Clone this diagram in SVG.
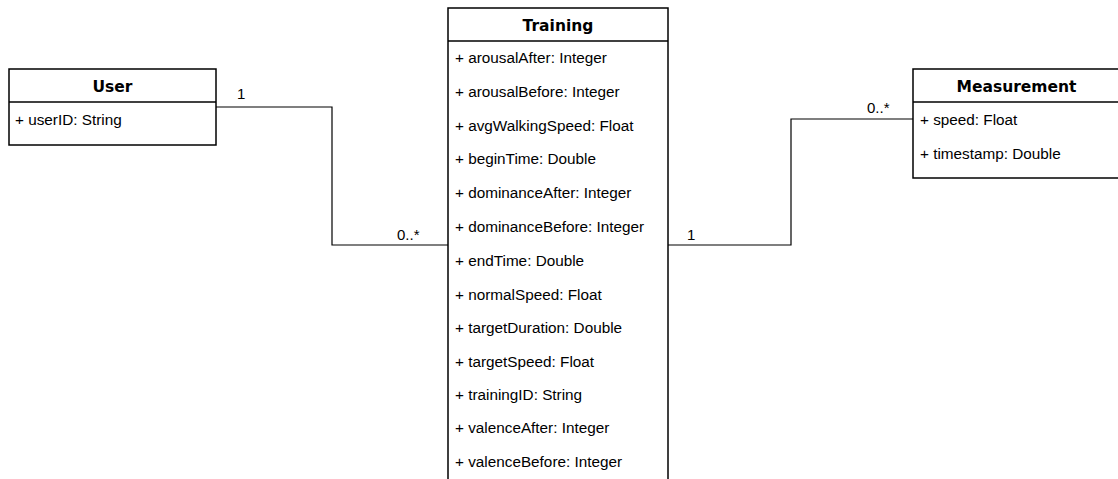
<svg xmlns="http://www.w3.org/2000/svg" width="1118" height="479" viewBox="0 0 1118 479">
  <style>
    .box { fill: #ffffff; stroke: #000000; stroke-width: 1.5; }
    .sep { stroke: #000000; stroke-width: 1.5; }
    .title { font-family: "DejaVu Sans", Verdana, sans-serif; font-weight: bold; font-size: 15.5px; text-anchor: middle; fill: #000; }
    .attr { font-family: "Liberation Sans", Arial, sans-serif; font-size: 15.3px; fill: #000; }
    .edge { fill: none; stroke: #000000; stroke-width: 1.2; }
    .mult { font-family: "Liberation Sans", Arial, sans-serif; font-size: 15px; fill: #000; }
  </style>
  <rect width="1118" height="479" fill="#ffffff"/>

  <g id="connectors">
    <polyline class="edge" points="216,107 332,107 332,245 448,245"/>
    <polyline class="edge" points="668,245 791,245 791,119 913,119"/>
    <text class="mult" x="237" y="99">1</text>
    <text class="mult" x="397" y="240">0..*</text>
    <text class="mult" x="687" y="240">1</text>
    <text class="mult" x="867" y="113">0..*</text>
  </g>

  <g id="user">
    <rect class="box" x="9" y="69" width="207" height="76"/>
    <line class="sep" x1="9" y1="102" x2="216" y2="102"/>
    <text class="title" x="112.5" y="92">User</text>
    <text class="attr" x="15" y="125">+ userID: String</text>
  </g>

  <g id="training">
    <rect class="box" x="448" y="8" width="220" height="480"/>
    <line class="sep" x1="448" y1="41" x2="668" y2="41"/>
    <text class="title" x="558" y="31">Training</text>
    <text class="attr" x="455" y="63">+ arousalAfter: Integer</text>
    <text class="attr" x="455" y="97">+ arousalBefore: Integer</text>
    <text class="attr" x="455" y="131">+ avgWalkingSpeed: Float</text>
    <text class="attr" x="455" y="164">+ beginTime: Double</text>
    <text class="attr" x="455" y="198">+ dominanceAfter: Integer</text>
    <text class="attr" x="455" y="232">+ dominanceBefore: Integer</text>
    <text class="attr" x="455" y="266">+ endTime: Double</text>
    <text class="attr" x="455" y="300">+ normalSpeed: Float</text>
    <text class="attr" x="455" y="333">+ targetDuration: Double</text>
    <text class="attr" x="455" y="367">+ targetSpeed: Float</text>
    <text class="attr" x="455" y="400">+ trainingID: String</text>
    <text class="attr" x="455" y="433">+ valenceAfter: Integer</text>
    <text class="attr" x="455" y="467">+ valenceBefore: Integer</text>
  </g>

  <g id="measurement">
    <rect class="box" x="913" y="69" width="207" height="109"/>
    <line class="sep" x1="913" y1="102" x2="1120" y2="102"/>
    <text class="title" x="1016.5" y="92">Measurement</text>
    <text class="attr" x="920" y="125">+ speed: Float</text>
    <text class="attr" x="920" y="159">+ timestamp: Double</text>
  </g>
</svg>
